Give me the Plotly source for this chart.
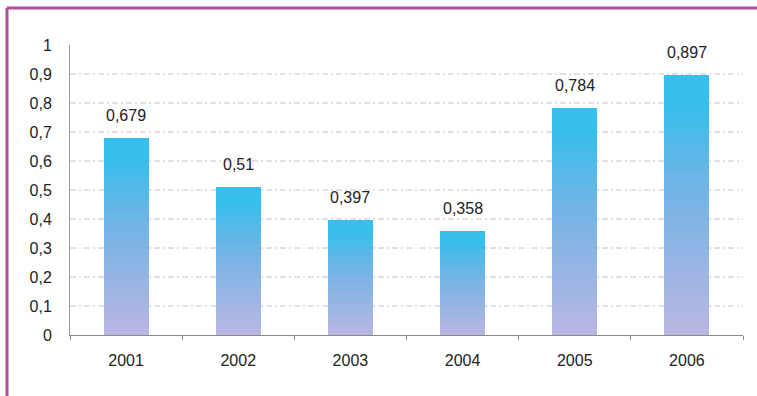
import plotly.graph_objects as go

# Annual values
years = ["2001", "2002", "2003", "2004", "2005", "2006"]
values = [0.679, 0.51, 0.397, 0.358, 0.784, 0.897]
labels = ["0,679", "0,51", "0,397", "0,358", "0,784", "0,897"]
y_ticks = [0, 0.1, 0.2, 0.3, 0.4, 0.5, 0.6, 0.7, 0.8, 0.9, 1]
y_ticktext = ["0", "0,1", "0,2", "0,3", "0,4", "0,5", "0,6", "0,7", "0,8", "0,9", "1"]
grid_levels = [0.1, 0.2, 0.3, 0.4, 0.5, 0.6, 0.7, 0.8, 0.9]

W, H = 757, 396
M_L, M_R, M_T, M_B = 70, 14, 45, 61

# Vertical gradient for each bar: lavender at the base, cyan at the top
BOTTOM = (186, 182, 226)
MID = (116, 180, 230)
TOP = (54, 190, 236)
N_SEG = 48


def blend(c1, c2, t):
    return tuple(round(a + (b - a) * t) for a, b in zip(c1, c2))


def seg_color(f):
    if f < 0.55:
        c = blend(BOTTOM, MID, f / 0.55)
    else:
        c = blend(MID, TOP, min(1.0, (f - 0.55) / 0.35))
    return "rgb(%d,%d,%d)" % c


fig = go.Figure()
for k in range(N_SEG):
    fig.add_trace(go.Bar(
        x=years,
        y=[v / N_SEG for v in values],
        marker=dict(color=seg_color((k + 0.5) / N_SEG), line=dict(width=0)),
        hoverinfo="skip",
        showlegend=False,
    ))

# Value labels above each bar (category index on the x axis)
for i, (v, lab) in enumerate(zip(values, labels)):
    fig.add_annotation(x=i, y=v, text=lab, showarrow=False, yanchor="bottom",
                       yshift=12, font=dict(size=16, color="#222222"))


def px_x(p):
    return (p - M_L) / (W - M_L - M_R)


def px_y(p):
    return 1 - (p - M_T) / (H - M_T - M_B)


shapes = []
# dash-dot gridlines
for g in grid_levels:
    shapes.append(dict(type="line", xref="paper", yref="y", x0=0, x1=1, y0=g, y1=g,
                       line=dict(color="#c4c4c4", width=1, dash="6px,3px,2px,3px"),
                       layer="below"))
# frame along top and left edges
shapes.append(dict(type="line", xref="paper", yref="paper",
                   x0=px_x(7), x1=px_x(760), y0=px_y(8), y1=px_y(8),
                   line=dict(color="#b0509f", width=3)))
shapes.append(dict(type="line", xref="paper", yref="paper",
                   x0=px_x(7), x1=px_x(7), y0=px_y(8), y1=px_y(400),
                   line=dict(color="#b0509f", width=3)))

fig.update_layout(
    width=W, height=H,
    margin=dict(l=M_L, r=M_R, t=M_T, b=M_B),
    barmode="stack",
    bargap=0.6,
    paper_bgcolor="white",
    plot_bgcolor="white",
    font=dict(family="Liberation Sans, Arial, sans-serif", size=16, color="#222222"),
    shapes=shapes,
    xaxis=dict(
        type="category", range=[-0.5, len(years) - 0.5],
        showline=True, linecolor="#8a8a8a", linewidth=1,
        ticks="outside", tickson="boundaries", ticklen=4, tickcolor="#8a8a8a",
        showgrid=False, tickfont=dict(size=16), ticklabelstandoff=11,
    ),
    yaxis=dict(
        range=[0, 1], tickvals=y_ticks, ticktext=y_ticktext,
        showline=True, linecolor="#9a9a9a", linewidth=1,
        showgrid=False, zeroline=False, ticks="",
        tickfont=dict(size=16), ticklabelstandoff=14,
    ),
)

fig.write_html("out.html")
